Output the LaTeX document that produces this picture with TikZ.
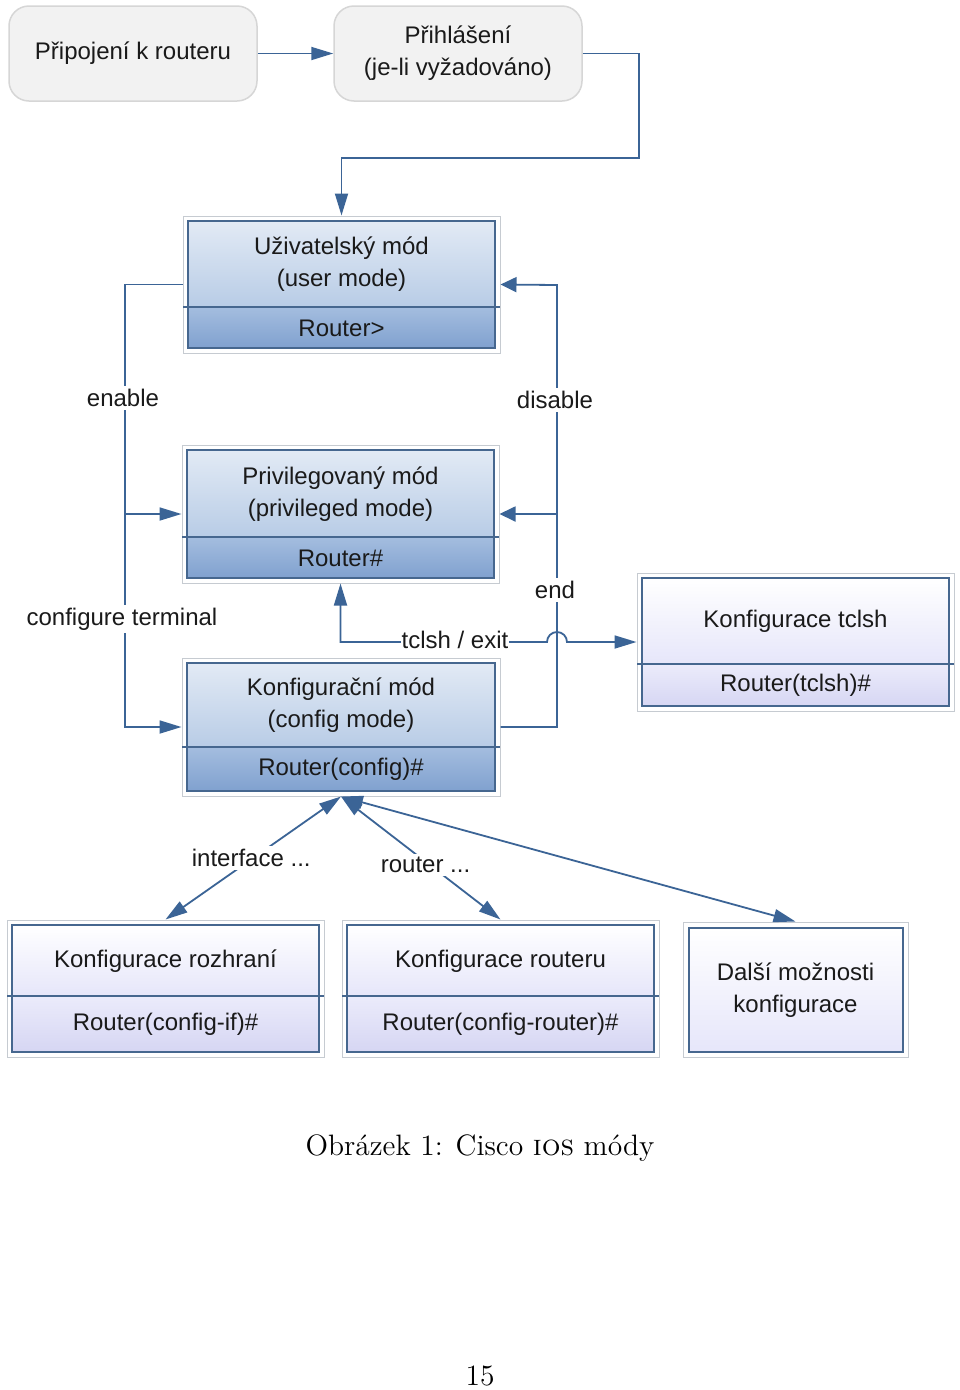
\documentclass[tikz,border=0pt]{standalone}
\usepackage{fontspec}
\newfontfamily\dfont{Liberation Sans}
\newfontfamily\capfont{lmroman12-regular}[Extension=.otf, SmallCapsFont=lmromancaps10-regular]
\usetikzlibrary{arrows.meta,calc}
\definecolor{lineblue}{HTML}{3B6496}
\definecolor{boxedge}{HTML}{46678F}
\definecolor{frameg}{HTML}{C6CBD1}
\definecolor{bTop}{HTML}{E2EAF5}
\definecolor{bMid}{HTML}{B8CCE6}
\definecolor{bLowA}{HTML}{A4BDDF}
\definecolor{bLowB}{HTML}{80A1CF}
\definecolor{lTop}{HTML}{FFFFFF}
\definecolor{lMid}{HTML}{E6E6FA}
\definecolor{lLowA}{HTML}{EBEBFB}
\definecolor{lLowB}{HTML}{D6D6F3}
\definecolor{rbfill}{HTML}{F2F2F2}
\definecolor{rbedge}{HTML}{D6D6D6}
\definecolor{txtc}{HTML}{1A1A1A}
\tikzset{
  dtext/.style={font=\dfont\fontsize{24}{32}\selectfont, text=txtc, align=center, inner sep=1pt},
  lab/.style={dtext, fill=white, inner sep=3pt},
  rbox/.style={dtext, draw=rbedge, line width=1.5pt, fill=rbfill, rounded corners=20pt,
    minimum width=248pt, minimum height=95pt},
  frame/.style={draw=frameg, line width=1pt, inner sep=0pt, fill=white},
  inner/.style={draw=boxedge, line width=1.6pt},
  divider/.style={draw=boxedge, line width=1.4pt},
  blueup/.style={top color=bTop, bottom color=bMid},
  bluelow/.style={top color=bLowA, bottom color=bLowB},
  lavup/.style={top color=lTop, bottom color=lMid},
  lavlow/.style={top color=lLowA, bottom color=lLowB},
  tip/.tip={Triangle[length=22pt,width=13pt]},
  shorttip/.tip={Triangle[length=16pt,width=15pt]},
  conn/.style={draw=lineblue, line width=1.8pt, -tip, fill=none},
  sconn/.style={draw=lineblue, line width=1.8pt, -shorttip, fill=none},
  biconn/.style={draw=lineblue, line width=1.8pt, tip-tip, fill=none},
}
% #1 name, #2 x1, #3 y1, #4 x2, #5 y2, #6 divider y, #7 scheme, #8 top text, #9 bottom text
\newcommand\ModeBox[9]{%
  \node[frame, minimum width={(#4-#2)*1pt}, minimum height={(#5-#3)*1pt}] (#1) at ({(#2+#4)/2},{(#3+#5)/2}) {};
  \shade[#7up] (#2+5,#3+5) rectangle (#4-5,#6);
  \shade[#7low] (#2+5,#6) rectangle (#4-5,#5-5);
  \draw[inner] (#2+5,#3+5) rectangle (#4-5,#5-5);
  \draw[divider] (#2,#6) -- (#4,#6);
  \node[dtext] (#1t) at ({(#2+#4)/2},{(#3+#6)/2+3}) {#8};
  \node[dtext] (#1b) at ({(#2+#4)/2},{(#6+#5)/2-2}) {#9};
}
\begin{document}
\begin{tikzpicture}[x=1pt,y=-1pt]
\useasboundingbox[fill=white] (0,0) rectangle (960,1390);

% top rounded boxes
\node[rbox] (conn) at (133,53.5) {Připojení k routeru};
\node[rbox] (login) at (458,53.5) {Přihlášení\\(je-li vyžadováno)};

% mode boxes
\ModeBox{U}{183}{216}{500}{353}{307}{blue}{Uživatelský mód\\(user mode)}{Router>}
\ModeBox{P}{182}{445}{499}{583}{537}{blue}{Privilegovaný mód\\(privileged mode)}{Router\#}
\ModeBox{C}{182}{658}{500}{796}{747}{blue}{Konfigurační mód\\(config mode)}{Router(config)\#}
\ModeBox{T}{637}{573}{954}{711}{664}{lav}{Konfigurace tclsh}{Router(tclsh)\#}
\ModeBox{RI}{7}{920}{324}{1057}{996}{lav}{Konfigurace rozhraní}{Router(config-if)\#}
\ModeBox{RO}{342}{920}{659}{1057}{996}{lav}{Konfigurace routeru}{Router(config-router)\#}

% Dalsi moznosti (no divider)
\node[frame, minimum width=225pt, minimum height=135pt] (D) at (795.5,989.5) {};
\shade[lavup] (689,928) rectangle (903,1052);
\draw[inner] (689,928) rectangle (903,1052);
\node[dtext] (Dt) at (795.5,990) {Další možnosti\\konfigurace};

% coordinates for bends
\coordinate (B1) at (639,158);
\coordinate (L) at (125,727);
\coordinate (Lp) at (125,514);
\coordinate (R) at (557,285);
\coordinate (Rp) at (557,514);
\coordinate (J) at (547,642);

% connectors
\draw[conn] (conn) -- (login);
\draw[conn] (login.east) -| (B1) -| (U.north);
\draw[conn] (U.west) -| (L) -- (C.west);
\draw[conn] (Lp) -- (P.west);
\draw[sconn] (C.east) -| (R) -- (U.east);
\draw[sconn] (Rp) -- (P.east);
\draw[biconn] (P.south) |- (J) arc[start angle=180,end angle=360,radius=10] -- (T.west);
\draw[biconn] (C.south) -- node[lab, pos=0.5, xshift=-2pt] (lif) {interface ...} (RI.north);
\draw[biconn] (C.south) -- node[lab, pos=0.555, xshift=-4pt] (lrt) {router ...} (RO.north);
\draw[biconn] (C.south) -- (D.north);

% labels on vertical lines
\node[lab] (len) at (123,398) {enable};
\node[lab] (lct) at (122,619) {configure terminal};
\node[lab] (ldis) at (555,400) {disable};
\node[lab] (lend) at (555,590) {end};
\node[lab, inner sep=1pt] (ltcl) at (455,640) {tclsh / exit};

% caption and page number
\node[font=\capfont\fontsize{29.5}{35}\selectfont] (cap) at (480,1148) {Obrázek 1: Cisco \textsc{ios} módy};
\node[font=\capfont\fontsize{29.5}{35}\selectfont] (pg) at (480,1376) {15};
\end{tikzpicture}
\end{document}
